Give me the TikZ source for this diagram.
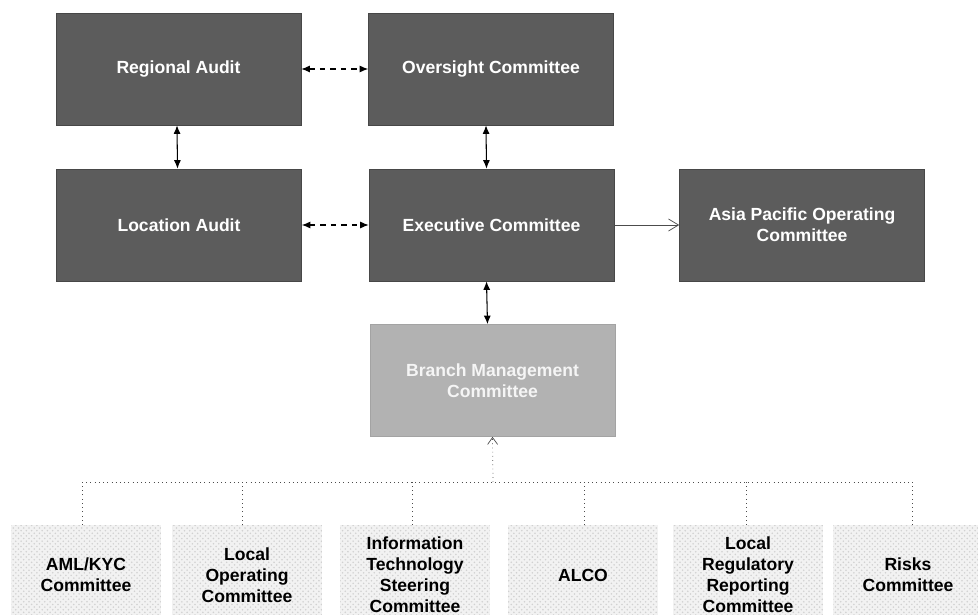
\documentclass[tikz,border=0pt]{standalone}
\usepackage{tikz}
\usepackage{xcolor}
\usepackage{fontspec}
\setmainfont{Liberation Sans}
\usetikzlibrary{patterns}
\usetikzlibrary{shapes.geometric, arrows, arrows.meta}

\begin{document}
\begin{tikzpicture}[x=0.02cm,y=-0.02cm,
  darkbox/.style={rectangle, fill=black!64, draw=black!72, text=white, align=center,
    font=\bfseries\fontsize{10}{12}\selectfont, minimum width=4.9cm, minimum height=2.24cm, inner sep=0pt},
  greybox/.style={darkbox, fill=black!30, draw=black!36, text=black!4},
  subbox/.style={rectangle, fill=black!5, postaction={pattern=crosshatch dots, pattern color=black!18},
    align=center, font=\bfseries\fontsize{10}{12}\selectfont, minimum width=3cm, minimum height=2cm, inner sep=0pt},
  link/.style={semithick, >={Latex[length=1.7mm,width=1.4mm]}},
  tree/.style={dotted, black!70}]

\useasboundingbox (0,0) rectangle (978,615);
\clip (0,0) rectangle (978,615);

\node[darkbox] (RA) at (178.5,69) {Regional Audit};
\node[darkbox] (OC) at (491,69) {Oversight Committee};
\node[darkbox] (LA) at (179,225) {Location Audit};
\node[darkbox] (EC) at (491.5,225) {Executive Committee};
\node[darkbox] (AP) at (802,225) {Asia Pacific Operating\\Committee};
\node[greybox] (BM) at (492.5,380.5) {Branch Management\\Committee};

\node[subbox] (AML) at (86,575) {AML/KYC\\Committee};
\node[subbox] (LOC) at (247,575) {Local\\Operating\\Committee};
\node[subbox] (ITS) at (415,575) {Information\\Technology\\Steering\\Committee};
\node[subbox] (ALCO) at (583,575) {ALCO};
\node[subbox] (LRR) at (748,575) {Local\\Regulatory\\Reporting\\Committee};
\node[subbox] (RSK) at (908,575) {Risks\\Committee};

\draw[link,<->,dashed] (RA.east) -- (OC.west);
\draw[link,<->,dashed] (LA.east) -- (EC.west);
\draw[link,<->] ([xshift=-0.03cm]RA.south) -- ([xshift=-0.03cm]LA.north);
\draw[link,<->] ([xshift=-0.1cm]OC.south) -- ([xshift=-0.1cm]EC.north);
\draw[link,<->] ([xshift=-0.1cm]EC.south) -- ([xshift=-0.1cm]BM.north);
\draw[-{Straight Barb[length=2mm,width=2.4mm]},black!70] (EC.east) -- (AP.west);

\coordinate (busL) at (82,482);
\coordinate (busR) at (912,482);
\coordinate (bus) at (493,482);
\draw[tree] (busL) -- (busR);
\draw[tree,-{Straight Barb[length=1.4mm,width=2mm]}] (bus) -- (BM.south);
\draw[tree] (AML.north -| busL) -- (busL);
\draw[tree] (LOC.north -| 242,0) -- (242,482);
\draw[tree] (ITS.north -| 412,0) -- (412,482);
\draw[tree] (ALCO.north -| 584,0) -- (584,482);
\draw[tree] (LRR.north -| 746,0) -- (746,482);
\draw[tree] (RSK.north -| busR) -- (busR);

\end{tikzpicture}
\end{document}
